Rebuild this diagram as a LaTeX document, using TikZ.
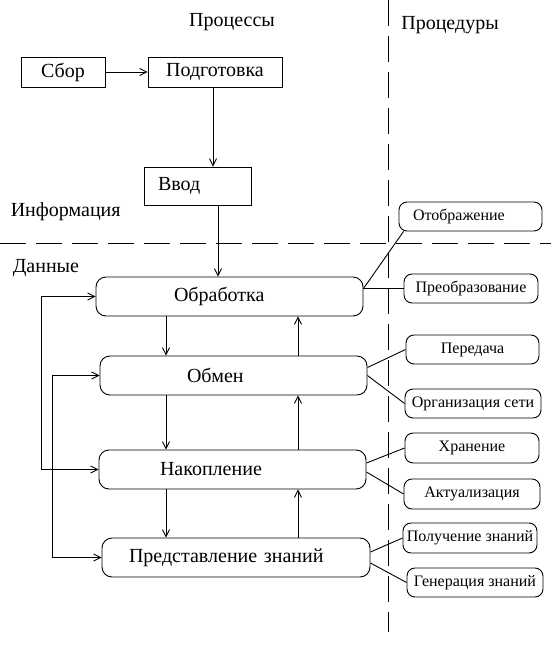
\documentclass[tikz,border=0pt]{standalone}
\usepackage{fontspec}
\setmainfont{Liberation Serif}
\usetikzlibrary{arrows.meta}

\begin{document}
\begin{tikzpicture}[x=1pt,y=-1pt,line width=0.9pt,
  box/.style={draw,inner sep=0pt,minimum height=30pt,font=\fontsize{20}{21}\selectfont},
  proc/.style={draw,rounded corners=10pt,minimum height=39pt,inner ysep=0pt,align=left,font=\fontsize{20}{21}\selectfont},
  op/.style={draw,rounded corners=8pt,minimum height=29pt,inner sep=0pt,font=\fontsize{16}{18}\selectfont},
  lbl/.style={font=\fontsize{20}{21}\selectfont},
  divline/.style={dash pattern=on 26pt off 10pt},
  >={Straight Barb[length=7pt,width=7pt]}]
  \useasboundingbox (0,0) rectangle (551,645);
  \node[lbl] (proc) at (232,22) {Процессы};
  \node[lbl] (proced) at (450,25) {Процедуры};
  \node[lbl,anchor=west] (inf) at (7,212) {Информация};
  \node[lbl,anchor=west] (dan) at (9,268) {Данные};
  \draw[divline] (0,243) -- (551,243);
  \draw[divline] (388,0) -- (388,632);
  \node[box,minimum width=84pt] (sbor) at (63,72) {Сбор};
  \node[box,minimum width=134pt] (podg) at (215,72) {Подготовка};
  \node[box,minimum height=38pt,inner xsep=14pt,text width=79pt,align=left] (vvod) at (197.5,186) {Ввод};
  \node[proc,inner xsep=78pt,text width=111pt] (obr) at (229.5,296.5) {Обработка};
  \node[proc,inner xsep=87pt,text width=93pt] (obm) at (233.5,375.5) {Обмен};
  \node[proc,inner xsep=61pt,text width=145pt] (nak) at (232.5,469.5) {Накопление};
  \node[proc,inner xsep=27pt,text width=214pt] (pred) at (236,557.5) {Представление знаний};
  \node[op,inner xsep=14pt,text width=115pt,align=left] (otob) at (470.5,216.5) {Отображение};
  \node[op,minimum width=134pt] (preo) at (471,288.5) {Преобразование};
  \node[op,minimum width=133pt] (pered) at (472.5,349.5) {Передача};
  \node[op,minimum width=136pt] (org) at (473,403.5) {Организация сети};
  \node[op,minimum width=134pt,minimum height=30pt] (hran) at (472,448) {Хранение};
  \node[op,minimum width=136pt,minimum height=30pt] (akt) at (472,494) {Актуализация};
  \node[op,minimum width=134pt,minimum height=30pt] (polu) at (470,538) {Получение знаний};
  \node[op,minimum width=136pt] (gen) at (475,582.5) {Генерация знаний};
  \coordinate (xa) at (213,0);
  \coordinate (xb) at (218,0);
  \coordinate (xd) at (166,0);
  \coordinate (xu) at (298,0);
  \draw[->] (sbor) -- (podg);
  \draw[->] (podg.south -| xa) -- (vvod.north -| xa);
  \draw[->] (vvod.south -| xb) -- (obr.north -| xb);
  \draw[->] (obr.south -| xd) -- (obm.north -| xd);
  \draw[->] (obm.south -| xd) -- (nak.north -| xd);
  \draw[->] (nak.south -| xd) -- (pred.north -| xd);
  \draw[->] (obm.north -| xu) -- (obr.south -| xu);
  \draw[->] (nak.north -| xu) -- (obm.south -| xu);
  \draw[->] (pred.north -| xu) -- (nak.south -| xu);
  \draw[<->] (obr.west) -- ++(-54,0) |- (nak.west);
  \draw[<->] (obm.west) -- ++(-47,0) |- (pred.west);
  \draw (preo.west -| obr.east) -- ([xshift=5pt]otob.south west);
  \draw (preo.west -| obr.east) -- (preo.west);
  \draw ([yshift=8pt]obm.east) -- (pered.west);
  \draw (obm.east) -- (org.west);
  \draw ([yshift=6.5pt]nak.east) -- (hran.west);
  \draw ([yshift=-2.5pt]nak.east) -- (akt.west);
  \draw ([yshift=5.5pt]pred.east) -- (polu.west);
  \draw ([yshift=-5.5pt]pred.east) -- (gen.west);
\end{tikzpicture}
\end{document}
